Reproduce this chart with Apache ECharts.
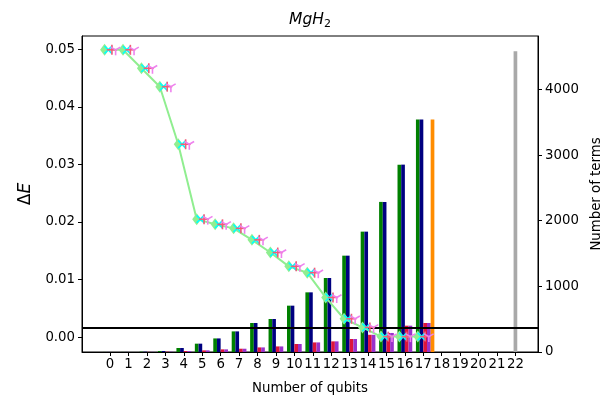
<!DOCTYPE html>
<html>
<head>
<meta charset="utf-8">
<script src="https://cdn.jsdelivr.net/npm/echarts@6/dist/echarts.min.js"></script>
<style>
  html, body { margin: 0; padding: 0; background: #fff; }
  #chart { width: 607px; height: 399px; }
</style>
</head>
<body>
<div id="chart"></div>
<script>
// Qubit counts for the reduced Hamiltonians
const qubits = [0, 1, 2, 3, 4, 5, 6, 7, 8, 9, 10, 11, 12, 13, 14, 15, 16, 17];

// Number of Pauli terms per qubit count (right axis)
const termsGreen   = [1, 1, 5, 15, 61, 127, 207, 314, 442, 503, 706, 909, 1128, 1468, 1834, 2287, 2855, 3541];
const termsNavy    = [1, 1, 5, 15, 61, 127, 207, 314, 442, 503, 706, 909, 1128, 1468, 1834, 2287, 2855, 3541];
const termsCrimson = [0, 0, 2, 5, 15, 25, 40, 50, 70, 85, 122, 146, 162, 198, 262, 290, 401, 442];
const termsOrchid  = [0, 0, 2, 5, 15, 25, 40, 50, 70, 85, 122, 146, 162, 198, 262, 290, 401, 442];
const orangeQubits = [17];
const termsOrange  = [3541];
const grayQubits   = [22];
const termsGray    = [4581];

// Energy error per qubit count (left axis)
const deltaE = [0.0499, 0.0499, 0.0467, 0.0435, 0.0335, 0.0205, 0.0196, 0.0189, 0.0169, 0.0147,
                0.0123, 0.0112, 0.0069, 0.0032, 0.0017, 0.0001, 0.0001, 0.0001];

// Chemical accuracy threshold
const chemicalAccuracy = 0.0016;

// Tick values
const xTicks = [0, 1, 2, 3, 4, 5, 6, 7, 8, 9, 10, 11, 12, 13, 14, 15, 16, 17, 18, 19, 20, 21, 22];
const leftTicks = [0, 0.01, 0.02, 0.03, 0.04, 0.05];
const rightTicks = [0, 1000, 2000, 3000, 4000];

const FONT = 'DejaVu Sans';

function barSeries(xs, ys, color, lo, hi) {
  return {
    type: 'custom',
    xAxisIndex: 0,
    yAxisIndex: 1,
    z: 2,
    silent: true,
    animation: false,
    data: xs.map((x, i) => [x, ys[i]]),
    encode: { x: 0, y: 1 },
    renderItem: (params, api) => {
      const x = api.value(0), y = api.value(1);
      const p0 = api.coord([x + lo, y]);
      const p1 = api.coord([x + hi, 0]);
      return {
        type: 'rect',
        shape: { x: p0[0], y: p0[1], width: p1[0] - p0[0], height: p1[1] - p0[1] },
        style: { fill: color }
      };
    }
  };
}

function markerSeries(kind, color, off) {
  return {
    type: 'custom',
    xAxisIndex: 0,
    yAxisIndex: 0,
    z: 6,
    silent: true,
    animation: false,
    data: qubits.map((q, i) => [q, deltaE[i]]),
    encode: { x: 0, y: 1 },
    renderItem: (params, api) => {
      const c = api.coord([api.value(0) + off, api.value(1)]);
      const st = { stroke: color, lineWidth: 1.6 };
      let segs;
      if (kind === 'x') {
        const r = 3.8;
        segs = [[-r, -r, r, r], [-r, r, r, -r]];
      } else if (kind === 'plus') {
        const r = 5;
        segs = [[-r, 0, r, 0], [0, -r, 0, r]];
      } else {
        const r = 5.5;
        segs = [[0, 0, 0, r], [0, 0, -r * 0.866, -r * 0.5], [0, 0, r * 0.866, -r * 0.5]];
      }
      return {
        type: 'group',
        children: segs.map(s => ({
          type: 'line',
          shape: { x1: c[0] + s[0], y1: c[1] + s[1], x2: c[0] + s[2], y2: c[1] + s[3] },
          style: st
        }))
      };
    }
  };
}

const chart = echarts.init(document.getElementById('chart'), null, { renderer: 'canvas' });

const axisLabelStyle = { color: '#000', fontFamily: FONT, fontSize: 13.3 };

chart.setOption({
  animation: false,
  backgroundColor: '#fff',
  grid: {
    left: 82, right: 69, top: 36, bottom: 47,
    containLabel: false,
    outerBoundsMode: 'none',
    show: true, borderColor: '#000', borderWidth: 1, backgroundColor: 'transparent'
  },
  graphic: [{
    type: 'text',
    x: 310, y: 20,
    style: {
      text: '{i|MgH}{s|2}',
      align: 'center',
      verticalAlign: 'middle',
      rich: {
        i: { fontFamily: FONT, fontStyle: 'italic', fontSize: 15.5, fill: '#000' },
        s: { fontFamily: FONT, fontSize: 11, fill: '#000', padding: [8, 0, 0, 0] }
      }
    }
  }],
  xAxis: [{
    type: 'value',
    min: -1.525, max: 23.225,
    splitLine: { show: false },
    axisLine: { show: true, onZero: false, lineStyle: { color: '#000' } },
    axisTick: { show: true, inside: false, length: 4, customValues: xTicks, lineStyle: { color: '#000' } },
    axisLabel: Object.assign({ customValues: xTicks, margin: 6, hideOverlap: false }, axisLabelStyle),
    name: 'Number of qubits',
    nameLocation: 'middle',
    nameGap: 30,
    nameTextStyle: { color: '#000', fontFamily: FONT, fontSize: 13.3 }
  }],
  yAxis: [{
    type: 'value',
    position: 'left',
    min: -0.00257, max: 0.0523,
    splitLine: { show: false },
    axisLine: { show: true, onZero: false, lineStyle: { color: '#000' } },
    axisTick: { show: true, inside: false, length: 4, customValues: leftTicks, lineStyle: { color: '#000' } },
    axisLabel: Object.assign({ customValues: leftTicks, margin: 7, formatter: v => v.toFixed(2) }, axisLabelStyle),
    name: '{d|Δ}{e|E}',
    nameLocation: 'middle',
    nameRotate: 90,
    nameGap: 43,
    nameTextStyle: {
      rich: {
        d: { fontFamily: FONT, fontSize: 17, color: '#000' },
        e: { fontFamily: FONT, fontSize: 17, fontStyle: 'italic', color: '#000' }
      }
    }
  }, {
    type: 'value',
    position: 'right',
    min: 0, max: 4815,
    splitLine: { show: false },
    axisLine: { show: true, onZero: false, lineStyle: { color: '#000' } },
    axisTick: { show: true, inside: false, length: 4, customValues: rightTicks, lineStyle: { color: '#000' } },
    axisLabel: Object.assign({ customValues: rightTicks, margin: 7, formatter: v => String(v) }, axisLabelStyle),
    name: 'Number of terms',
    nameLocation: 'middle',
    nameRotate: 90,
    nameGap: 52,
    nameTextStyle: { color: '#000', fontFamily: FONT, fontSize: 13.3 }
  }],
  series: [
    barSeries(qubits, termsGreen, '#008000', -0.4, -0.2),
    barSeries(qubits, termsNavy, '#000080', -0.2, 0.0),
    barSeries(qubits, termsCrimson, '#dc143c', 0.0, 0.2),
    barSeries(qubits, termsOrchid, '#9932cc', 0.2, 0.4),
    barSeries(orangeQubits, termsOrange, '#ff8c00', 0.4, 0.6),
    barSeries(grayQubits, termsGray, '#a9a9a9', -0.1, 0.1),
    {
      type: 'line',
      xAxisIndex: 0,
      yAxisIndex: 0,
      z: 5,
      silent: true,
      data: qubits.map((q, i) => [q - 0.3, deltaE[i]]),
      symbol: 'diamond',
      symbolSize: [9, 12],
      showSymbol: true,
      itemStyle: { color: '#90ee90' },
      lineStyle: { color: '#90ee90', width: 2 },
      markLine: {
        silent: true,
        precision: 4,
        symbol: ['none', 'none'],
        label: { show: false },
        lineStyle: { color: '#000', width: 2, type: 'solid' },
        data: [{ yAxis: chemicalAccuracy }]
      }
    },
    markerSeries('x', '#00ffff', -0.1),
    markerSeries('plus', '#f25c78', 0.1),
    markerSeries('tri', '#ee82ee', 0.3)
  ]
});
</script>
</body>
</html>
